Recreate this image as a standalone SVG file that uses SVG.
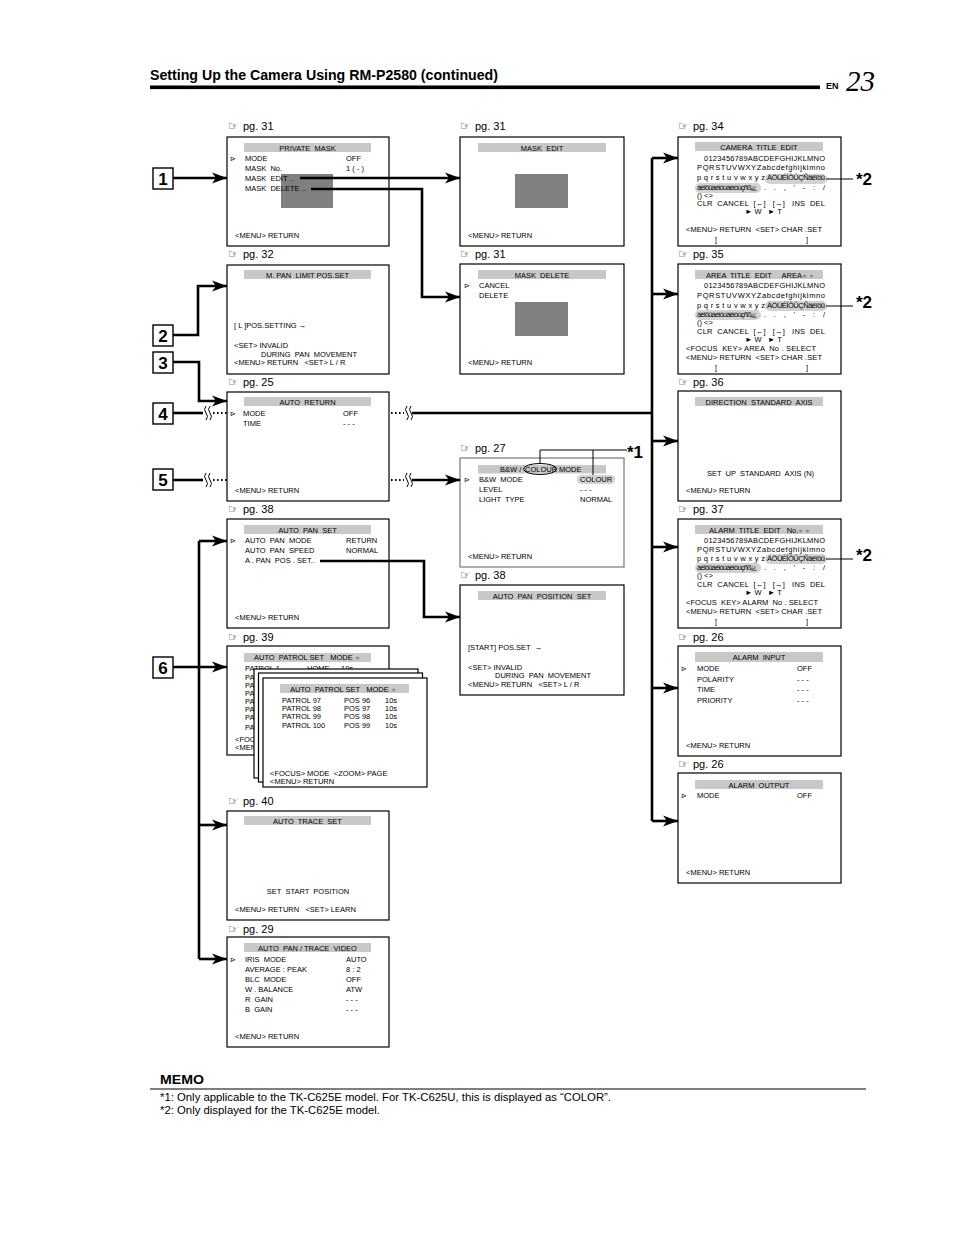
<svg xmlns="http://www.w3.org/2000/svg" width="954" height="1235" viewBox="0 0 954 1235">
<defs>
<style>
text{font-family:"Liberation Sans",Arial,sans-serif;white-space:pre;fill:#000}
.t{font-size:7.5px}
.pg{font-size:11px}
.hand{font-family:"DejaVu Sans",sans-serif;font-size:12.5px}
.ptr{font-family:"DejaVu Sans",sans-serif;font-size:7px}
.mid{text-anchor:middle}
.box{fill:#fff;stroke:#000;stroke-width:1.2}
.bar{fill:#c8c8c8}
.dk{fill:#808080}
.hl{fill:#d2d2d2}
.gs{fill:#777;font-size:6px}
.num{fill:#fff;stroke:#000;stroke-width:1.4}
.numt{font-size:17px;font-weight:bold;text-anchor:middle}
.star{font-size:17px;font-weight:bold}
.w{fill:none;stroke:#000;stroke-width:2.6}
.dot{fill:none;stroke:#000;stroke-width:2;stroke-dasharray:1.6 2.4}
.thin{fill:none;stroke:#000;stroke-width:1}
.sq{fill:none;stroke:#000;stroke-width:1}
</style>
<marker id="ah" markerUnits="userSpaceOnUse" markerWidth="16" markerHeight="12" refX="15" refY="6" orient="auto">
<path d="M0,0.5 L15,6 L0,11.5 L4,6 z" fill="#000"/>
</marker>
</defs>
<rect width="954" height="1235" fill="#fff"/>

<g id="header">
<text x="150" y="80" font-size="14" font-weight="bold" textLength="348" lengthAdjust="spacingAndGlyphs">Setting Up the Camera Using RM-P2580 (continued)</text>
<rect x="150" y="85.5" width="670" height="3.6" fill="#000"/>
<text x="826" y="89" font-size="9" font-weight="bold">EN</text>
<text x="846" y="91" font-size="29" font-style="italic" style="font-family:'Liberation Serif',serif">23</text>
</g>

<!-- numbered labels -->
<g id="n1"><rect class="num" x="153" y="168" width="20" height="21"/><text class="numt" x="163" y="185">1</text></g>
<g id="n2"><rect class="num" x="153" y="325" width="20" height="21"/><text class="numt" x="163" y="342">2</text></g>
<g id="n3"><rect class="num" x="153" y="352" width="20" height="21"/><text class="numt" x="163" y="369">3</text></g>
<g id="n4"><rect class="num" x="153" y="403" width="20" height="21"/><text class="numt" x="163" y="420">4</text></g>
<g id="n5"><rect class="num" x="153" y="469" width="20" height="21"/><text class="numt" x="163" y="486">5</text></g>
<g id="n6"><rect class="num" x="153" y="657" width="20" height="21"/><text class="numt" x="163" y="674">6</text></g>

<!-- LEFT COLUMN -->
<g id="private-mask">
<text class="hand" x="228" y="130">☞</text><text class="pg" x="243" y="130">pg. 31</text>
<rect class="box" x="227" y="137" width="162" height="109"/>
<rect class="bar" x="244" y="143" width="127" height="9"/>
<text class="t mid" x="307.5" y="150.5">PRIVATE  MASK</text>
<rect class="dk" x="281" y="174" width="52" height="34"/>
<text class="ptr" x="230" y="161">⊳</text>
<text class="t" x="245" y="161">MODE</text><text class="t" x="346" y="161">OFF</text>
<text class="t" x="245" y="171">MASK  No.</text><text class="t" x="346" y="171">1 ( - )</text>
<text class="t" x="245" y="181">MASK  EDIT ..</text>
<text class="t" x="245" y="191">MASK  DELETE ..</text>
<text class="t" x="235" y="238">&lt;MENU&gt; RETURN</text>
</g>

<g id="m-pan-limit">
<text class="hand" x="228" y="258">☞</text><text class="pg" x="243" y="258">pg. 32</text>
<rect class="box" x="227" y="265" width="162" height="109"/>
<rect class="bar" x="244" y="270" width="127" height="9"/>
<text class="t mid" x="307.5" y="277.5">M. PAN  LIMIT POS.SET</text>
<text class="t" x="234" y="328">[ L ]POS.SETTING →</text>
<text class="t" x="234" y="348">&lt;SET&gt; INVALID</text>
<text class="t" x="261" y="357">DURING  PAN  MOVEMENT</text>
<text class="t" x="234" y="365">&lt;MENU&gt; RETURN   &lt;SET&gt; L / R</text>
</g>

<g id="auto-return">
<text class="hand" x="228" y="386">☞</text><text class="pg" x="243" y="386">pg. 25</text>
<rect class="box" x="227" y="392" width="162" height="109"/>
<rect class="bar" x="244" y="397" width="127" height="9"/>
<text class="t mid" x="307.5" y="404.5">AUTO  RETURN</text>
<text class="ptr" x="230" y="416">⊳</text>
<text class="t" x="243" y="416">MODE</text><text class="t" x="343" y="416">OFF</text>
<text class="t" x="243" y="426">TIME</text><text class="t" x="343" y="426">- - -</text>
<text class="t" x="235" y="493">&lt;MENU&gt; RETURN</text>
</g>

<g id="auto-pan-set">
<text class="hand" x="228" y="513">☞</text><text class="pg" x="243" y="513">pg. 38</text>
<rect class="box" x="227" y="519" width="162" height="109"/>
<rect class="bar" x="244" y="525" width="127" height="9"/>
<text class="t mid" x="307.5" y="532.5">AUTO  PAN  SET</text>
<text class="ptr" x="230" y="543">⊳</text>
<text class="t" x="245" y="543">AUTO  PAN  MODE</text><text class="t" x="346" y="543">RETURN</text>
<text class="t" x="245" y="553">AUTO  PAN  SPEED</text><text class="t" x="346" y="553">NORMAL</text>
<text class="t" x="245" y="563">A . PAN  POS . SET..</text>
<text class="t" x="235" y="620">&lt;MENU&gt; RETURN</text>
</g>

<g id="auto-patrol-set">
<text class="hand" x="228" y="641">☞</text><text class="pg" x="243" y="641">pg. 39</text>
<rect class="box" x="227" y="646" width="162" height="109"/>
<rect class="bar" x="244" y="653" width="127" height="9"/>
<text class="t" x="254" y="660">AUTO  PATROL SET   MODE <tspan class="gs">∗</tspan></text>
<text class="t" x="245" y="671">PATROL 1</text><text class="t" x="307" y="671">HOME</text><text class="t" x="341" y="671">10s</text>
<text class="t" x="245" y="680">PA</text>
<text class="t" x="245" y="688">PA</text>
<text class="t" x="245" y="696">PA</text>
<text class="t" x="245" y="704">PA</text>
<text class="t" x="245" y="712">PA</text>
<text class="t" x="245" y="720">PA</text>
<text class="t" x="245" y="730">PA</text>
<text class="t" x="235" y="742">&lt;FOCUS&gt;</text>
<text class="t" x="235" y="750">&lt;MENU&gt;</text>
<rect class="box" x="254" y="669" width="164" height="109"/>
<rect class="box" x="258.5" y="673" width="164" height="109"/>
<rect class="box" x="263" y="678" width="164" height="109"/>
<rect class="bar" x="280" y="684" width="129" height="9"/>
<text class="t" x="290" y="691.5">AUTO  PATROL SET   MODE <tspan class="gs">∗</tspan></text>
<text class="t" x="282" y="703">PATROL 97</text><text class="t" x="344" y="703">POS 96</text><text class="t" x="385" y="703">10s</text>
<text class="t" x="282" y="711">PATROL 98</text><text class="t" x="344" y="711">POS 97</text><text class="t" x="385" y="711">10s</text>
<text class="t" x="282" y="719">PATROL 99</text><text class="t" x="344" y="719">POS 98</text><text class="t" x="385" y="719">10s</text>
<text class="t" x="282" y="728">PATROL 100</text><text class="t" x="344" y="728">POS 99</text><text class="t" x="385" y="728">10s</text>
<text class="t" x="270" y="776">&lt;FOCUS&gt; MODE  &lt;ZOOM&gt; PAGE</text>
<text class="t" x="270" y="784">&lt;MENU&gt; RETURN</text>
</g>

<g id="auto-trace-set">
<text class="hand" x="228" y="805">☞</text><text class="pg" x="243" y="805">pg. 40</text>
<rect class="box" x="227" y="811" width="162" height="109"/>
<rect class="bar" x="244" y="816" width="127" height="9"/>
<text class="t mid" x="307.5" y="823.5">AUTO  TRACE  SET</text>
<text class="t mid" x="308" y="894">SET  START  POSITION</text>
<text class="t" x="235" y="912">&lt;MENU&gt; RETURN   &lt;SET&gt; LEARN</text>
</g>

<g id="auto-pan-trace-video">
<text class="hand" x="228" y="933">☞</text><text class="pg" x="243" y="933">pg. 29</text>
<rect class="box" x="227" y="937" width="162" height="110"/>
<rect class="bar" x="244" y="943" width="127" height="9"/>
<text class="t mid" x="307.5" y="950.5">AUTO  PAN / TRACE  VIDEO</text>
<text class="ptr" x="230" y="962">⊳</text>
<text class="t" x="245" y="962">IRIS  MODE</text><text class="t" x="346" y="962">AUTO</text>
<text class="t" x="245" y="972">AVERAGE : PEAK</text><text class="t" x="346" y="972">8 : 2</text>
<text class="t" x="245" y="982">BLC  MODE</text><text class="t" x="346" y="982">OFF</text>
<text class="t" x="245" y="992">W . BALANCE</text><text class="t" x="346" y="992">ATW</text>
<text class="t" x="245" y="1002">R  GAIN</text><text class="t" x="346" y="1002">- - -</text>
<text class="t" x="245" y="1012">B  GAIN</text><text class="t" x="346" y="1012">- - -</text>
<text class="t" x="235" y="1039">&lt;MENU&gt; RETURN</text>
</g>

<!-- MIDDLE COLUMN -->
<g id="mask-edit">
<text class="hand" x="460" y="130">☞</text><text class="pg" x="475" y="130">pg. 31</text>
<rect class="box" x="460" y="137" width="164" height="109"/>
<rect class="bar" x="478" y="143" width="128" height="9"/>
<text class="t mid" x="542" y="150.5">MASK  EDIT</text>
<rect class="dk" x="515" y="174" width="53" height="34"/>
<text class="t" x="468" y="238">&lt;MENU&gt; RETURN</text>
</g>

<g id="mask-delete">
<text class="hand" x="460" y="258">☞</text><text class="pg" x="475" y="258">pg. 31</text>
<rect class="box" x="460" y="264" width="164" height="110"/>
<rect class="bar" x="478" y="270" width="128" height="9"/>
<text class="t mid" x="542" y="277.5">MASK  DELETE</text>
<text class="ptr" x="464" y="288">⊳</text>
<text class="t" x="479" y="288">CANCEL</text>
<text class="t" x="479" y="298">DELETE</text>
<rect class="dk" x="515" y="302" width="53" height="34"/>
<text class="t" x="468" y="365">&lt;MENU&gt; RETURN</text>
</g>

<g id="bw-colour-mode">
<text class="hand" x="460" y="452">☞</text><text class="pg" x="475" y="452">pg. 27</text>
<rect x="460" y="458" width="164" height="109" fill="#fff" stroke="#777" stroke-width="1.2"/>
<rect class="bar" x="478" y="465" width="128" height="8.5"/>
<text class="t" x="500" y="472">B&amp;W /</text>
<text class="t" x="525" y="472">COLOUR</text>
<text class="t" x="559" y="472">MODE</text>
<ellipse cx="540" cy="469" rx="16.5" ry="5.5" class="thin" stroke-width="0.8"/>
<rect class="hl" x="577" y="475" width="38" height="9" rx="4.5"/>
<text class="ptr" x="464" y="482">⊳</text>
<text class="t" x="479" y="482">B&amp;W  MODE</text><text class="t" x="580" y="482">COLOUR</text>
<text class="t" x="479" y="492">LEVEL</text><text class="t" x="580" y="492">- - -</text>
<text class="t" x="479" y="502">LIGHT  TYPE</text><text class="t" x="580" y="502">NORMAL</text>
<text class="t" x="468" y="559">&lt;MENU&gt; RETURN</text>
</g>

<g id="note1">
<text class="star" x="627" y="458">*1</text>
</g>

<g id="auto-pan-position-set">
<text class="hand" x="460" y="579">☞</text><text class="pg" x="475" y="579">pg. 38</text>
<rect class="box" x="460" y="585" width="164" height="110"/>
<rect class="bar" x="478" y="591" width="128" height="9"/>
<text class="t mid" x="542" y="598.5">AUTO  PAN  POSITION  SET</text>
<text class="t" x="468" y="650">[START] POS.SET  →</text>
<text class="t" x="468" y="670">&lt;SET&gt; INVALID</text>
<text class="t" x="495" y="678">DURING  PAN  MOVEMENT</text>
<text class="t" x="468" y="687">&lt;MENU&gt; RETURN   &lt;SET&gt; L / R</text>
</g>

<!-- RIGHT COLUMN -->
<g id="camera-title-edit">
<text class="hand" x="678" y="130">☞</text><text class="pg" x="693" y="130">pg. 34</text>
<rect class="box" x="678" y="137" width="163" height="109"/>
<rect class="bar" x="695" y="142" width="128" height="9"/>
<text class="t mid" x="759" y="149.5">CAMERA  TITLE  EDIT</text>
<rect class="hl" x="765" y="174" width="62" height="10" rx="5"/>
<rect class="hl" x="695" y="183" width="66" height="10" rx="5"/>
<text class="t" x="704" y="161" textLength="121">0123456789ABCDEFGHIJKLMNO</text>
<text class="t" x="697" y="170" textLength="128">PQRSTUVWXYZabcdefghijklmno</text>
<text class="t" x="697" y="180" textLength="68">pqrstuvwxyz</text>
<text class="t" x="767" y="180" textLength="58">ÄÖÜÉÎÔÛÇÑäëïöü</text>
<text class="t" x="697" y="190" textLength="60">àèîôûáéíóúàèìòùçñß¡¿</text>
<text class="t" x="764" y="190" textLength="61">. . , ' - : /</text>
<text class="t" x="697" y="198">() &lt;&gt;</text>
<text class="t" x="697" y="206" textLength="128">CLR  CANCEL  [←]   [→]   INS  DEL</text>
<text class="t" x="745" y="214">► W   ► T</text>
<text class="t" x="686" y="232" textLength="136">&lt;MENU&gt; RETURN  &lt;SET&gt; CHAR .SET</text>
<text class="t" x="715" y="242">[</text><text class="t" x="806" y="242">]</text>
<text class="star" x="856" y="185">*2</text>
</g>

<g id="area-title-edit">
<text class="hand" x="678" y="258">☞</text><text class="pg" x="693" y="258">pg. 35</text>
<rect class="box" x="678" y="264" width="163" height="110"/>
<rect class="bar" x="695" y="270" width="128" height="9"/>
<text class="t" x="706" y="277.5">AREA  TITLE  EDIT     AREA<tspan class="gs">∗ ∗</tspan></text>
<rect class="hl" x="765" y="301" width="62" height="10" rx="5"/>
<rect class="hl" x="695" y="310" width="66" height="10" rx="5"/>
<text class="t" x="704" y="288" textLength="121">0123456789ABCDEFGHIJKLMNO</text>
<text class="t" x="697" y="298" textLength="128">PQRSTUVWXYZabcdefghijklmno</text>
<text class="t" x="697" y="308" textLength="68">pqrstuvwxyz</text>
<text class="t" x="767" y="308" textLength="58">ÄÖÜÉÎÔÛÇÑäëïöü</text>
<text class="t" x="697" y="317" textLength="60">àèîôûáéíóúàèìòùçñß¡¿</text>
<text class="t" x="764" y="317" textLength="61">. . , ' - : /</text>
<text class="t" x="697" y="325">() &lt;&gt;</text>
<text class="t" x="697" y="334" textLength="128">CLR  CANCEL  [←]   [→]   INS  DEL</text>
<text class="t" x="745" y="342">► W   ► T</text>
<text class="t" x="686" y="351" textLength="130">&lt;FOCUS  KEY&gt; AREA  No . SELECT</text>
<text class="t" x="686" y="360" textLength="136">&lt;MENU&gt; RETURN  &lt;SET&gt; CHAR .SET</text>
<text class="t" x="715" y="370">[</text><text class="t" x="806" y="370">]</text>
<text class="star" x="856" y="308">*2</text>
</g>

<g id="direction-standard-axis">
<text class="hand" x="678" y="386">☞</text><text class="pg" x="693" y="386">pg. 36</text>
<rect class="box" x="678" y="391" width="163" height="110"/>
<rect class="bar" x="695" y="397" width="128" height="9"/>
<text class="t mid" x="759" y="404.5">DIRECTION  STANDARD  AXIS</text>
<text class="t" x="707" y="476">SET  UP  STANDARD  AXIS (N)</text>
<text class="t" x="686" y="493">&lt;MENU&gt; RETURN</text>
</g>

<g id="alarm-title-edit">
<text class="hand" x="678" y="513">☞</text><text class="pg" x="693" y="513">pg. 37</text>
<rect class="box" x="678" y="519" width="163" height="109"/>
<rect class="bar" x="695" y="525" width="128" height="9"/>
<text class="t" x="709" y="532.5">ALARM  TITLE  EDIT   No.<tspan class="gs">∗ ∗</tspan></text>
<rect class="hl" x="765" y="554" width="62" height="10" rx="5"/>
<rect class="hl" x="695" y="563" width="66" height="10" rx="5"/>
<text class="t" x="704" y="543" textLength="121">0123456789ABCDEFGHIJKLMNO</text>
<text class="t" x="697" y="552" textLength="128">PQRSTUVWXYZabcdefghijklmno</text>
<text class="t" x="697" y="561" textLength="68">pqrstuvwxyz</text>
<text class="t" x="767" y="561" textLength="58">ÄÖÜÉÎÔÛÇÑäëïöü</text>
<text class="t" x="697" y="570" textLength="60">àèîôûáéíóúàèìòùçñß¡¿</text>
<text class="t" x="764" y="570" textLength="61">. . , ' - : /</text>
<text class="t" x="697" y="578">() &lt;&gt;</text>
<text class="t" x="697" y="587" textLength="128">CLR  CANCEL  [←]   [→]   INS  DEL</text>
<text class="t" x="745" y="595">► W   ► T</text>
<text class="t" x="686" y="605" textLength="132">&lt;FOCUS  KEY&gt; ALARM  No . SELECT</text>
<text class="t" x="686" y="614" textLength="136">&lt;MENU&gt; RETURN  &lt;SET&gt; CHAR .SET</text>
<text class="t" x="715" y="624">[</text><text class="t" x="806" y="624">]</text>
<text class="star" x="856" y="561">*2</text>
</g>

<g id="alarm-input">
<text class="hand" x="678" y="641">☞</text><text class="pg" x="693" y="641">pg. 26</text>
<rect class="box" x="678" y="646" width="163" height="110"/>
<rect class="bar" x="695" y="652" width="128" height="10"/>
<text class="t mid" x="759" y="660">ALARM  INPUT</text>
<text class="ptr" x="681" y="671">⊳</text>
<text class="t" x="697" y="671">MODE</text><text class="t" x="797" y="671">OFF</text>
<text class="t" x="697" y="682">POLARITY</text><text class="t" x="797" y="682">- - -</text>
<text class="t" x="697" y="692">TIME</text><text class="t" x="797" y="692">- - -</text>
<text class="t" x="697" y="703">PRIORITY</text><text class="t" x="797" y="703">- - -</text>
<text class="t" x="686" y="748">&lt;MENU&gt; RETURN</text>
</g>

<g id="alarm-output">
<text class="hand" x="678" y="768">☞</text><text class="pg" x="693" y="768">pg. 26</text>
<rect class="box" x="678" y="773" width="163" height="110"/>
<rect class="bar" x="695" y="780" width="128" height="9"/>
<text class="t mid" x="759" y="787.5">ALARM  OUTPUT</text>
<text class="ptr" x="681" y="798">⊳</text>
<text class="t" x="697" y="798">MODE</text><text class="t" x="797" y="798">OFF</text>
<text class="t" x="686" y="875">&lt;MENU&gt; RETURN</text>
</g>

<!-- CONNECTORS -->
<g id="connectors">
<path class="w" d="M173,178 H227" marker-end="url(#ah)"/>
<path class="w" d="M173,335 H198 V286 H227" marker-end="url(#ah)"/>
<path class="w" d="M173,362 H199 V401 H227" marker-end="url(#ah)"/>
<path class="w" d="M173,413 H203"/>
<path class="sq" d="M206,406 q-3,3.5 0,7 q3,3.5 0,7 M210,406 q-3,3.5 0,7 q3,3.5 0,7"/>
<path class="dot" d="M213,413 H227"/>
<path class="dot" d="M391,413 H404"/>
<path class="sq" d="M407,406 q-3,3.5 0,7 q3,3.5 0,7 M411,406 q-3,3.5 0,7 q3,3.5 0,7"/>
<path class="w" d="M412,413 H652"/>
<path class="w" d="M173,480 H203"/>
<path class="sq" d="M206,473 q-3,3.5 0,7 q3,3.5 0,7 M210,473 q-3,3.5 0,7 q3,3.5 0,7"/>
<path class="dot" d="M213,480 H227"/>
<path class="dot" d="M391,480 H404"/>
<path class="sq" d="M407,473 q-3,3.5 0,7 q3,3.5 0,7 M411,473 q-3,3.5 0,7 q3,3.5 0,7"/>
<path class="w" d="M412,480 H460" marker-end="url(#ah)"/>
<path class="w" d="M173,667 H227" marker-end="url(#ah)"/>
<path class="w" d="M199,541 V959"/>
<path class="w" d="M199,541 H227" marker-end="url(#ah)"/>
<path class="w" d="M199,825 H227" marker-end="url(#ah)"/>
<path class="w" d="M199,959 H227" marker-end="url(#ah)"/>
<path class="w" d="M300,178 H460" marker-end="url(#ah)"/>
<path class="w" d="M311,189 H422 V297 H460" marker-end="url(#ah)"/>
<path class="w" d="M320,561 H424 V617 H460" marker-end="url(#ah)"/>
<path class="w" d="M652,158 V821"/>
<path class="w" d="M652,158 H678" marker-end="url(#ah)"/>
<path class="w" d="M652,294 H678" marker-end="url(#ah)"/>
<path class="w" d="M652,441 H678" marker-end="url(#ah)"/>
<path class="w" d="M652,547 H678" marker-end="url(#ah)"/>
<path class="w" d="M652,688 H678" marker-end="url(#ah)"/>
<path class="w" d="M652,821 H678" marker-end="url(#ah)"/>
<path class="thin" d="M540,463.5 V450 H627 M593,450 V475"/>
<path class="thin" d="M826,179 H853"/>
<path class="thin" d="M826,306 H853"/>
<path class="thin" d="M826,559 H853"/>
</g>

<g id="memo">
<text x="160" y="1084" font-size="13" font-weight="900" textLength="44" lengthAdjust="spacingAndGlyphs">MEMO</text>
<rect x="150" y="1088.5" width="716" height="1" fill="#000"/>
<text x="160" y="1101" font-size="11" textLength="451" lengthAdjust="spacingAndGlyphs">*1: Only applicable to the TK-C625E model. For TK-C625U, this is displayed as “COLOR”.</text>
<text x="160" y="1114" font-size="11" textLength="220" lengthAdjust="spacingAndGlyphs">*2: Only displayed for the TK-C625E model.</text>
</g>
</svg>
